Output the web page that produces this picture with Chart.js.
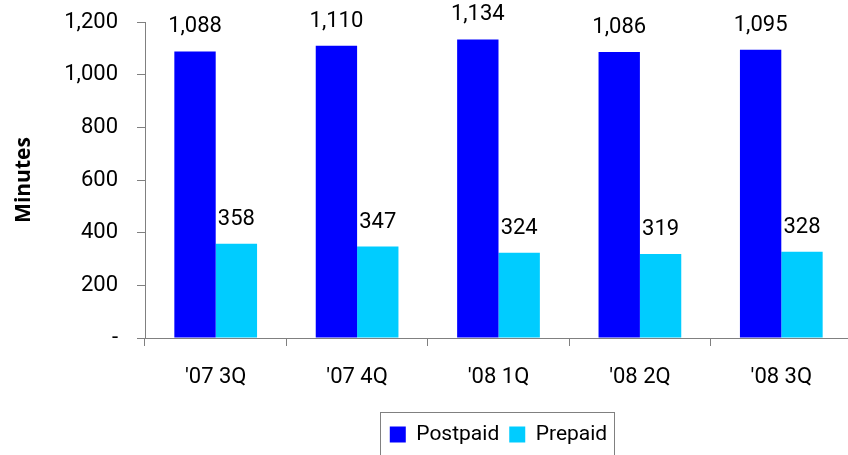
<!DOCTYPE html>
<html>
<head>
<meta charset="utf-8">
<script src="https://cdn.jsdelivr.net/npm/chart.js@4.4.0/dist/chart.umd.min.js"></script>
<style>
  html, body { margin: 0; padding: 0; background: #fff; overflow: hidden; }
  #wrap { width: 852px; height: 455px; }
</style>
</head>
<body>
<div id="wrap"><canvas id="mou"></canvas></div>
<script>
const quarters = ["'07 3Q", "'07 4Q", "'08 1Q", "'08 2Q", "'08 3Q"];
const postpaid = [1088, 1110, 1134, 1086, 1095];
const prepaid = [358, 347, 324, 319, 328];
const yTicks = [0, 200, 400, 600, 800, 1000, 1200];

const FONT = "Roboto, 'Liberation Sans', sans-serif";
const AXIS_GREY = '#808080';

// draw values above each bar
const valueLabels = {
  id: 'valueLabels',
  afterDatasetsDraw(chart) {
    const ctx = chart.ctx;
    ctx.save();
    ctx.font = '22px ' + FONT;
    ctx.fillStyle = '#000';
    ctx.textAlign = 'center';
    ctx.textBaseline = 'alphabetic';
    chart.data.datasets.forEach((ds, i) => {
      chart.getDatasetMeta(i).data.forEach((bar, j) => {
        ctx.fillText(ds.data[j].toLocaleString('en-US'), bar.x, bar.y - 19);
      });
    });
    ctx.restore();
  }
};

// move the legend under the plot area and frame it
const legendFrame = {
  id: 'legendFrame',
  afterLayout(chart) {
    const lg = chart.legend;
    lg.left = chart.chartArea.left;
    lg.right = chart.chartArea.right;
    lg.width = lg.right - lg.left;
  },
  afterDraw(chart) {
    const boxes = chart.legend.legendHitBoxes;
    if (!boxes || !boxes.length) return;
    const first = boxes[0], last = boxes[boxes.length - 1];
    const ctx = chart.ctx;
    ctx.save();
    ctx.strokeStyle = AXIS_GREY;
    ctx.lineWidth = 1;
    const x0 = Math.round(first.left - 10) + 0.5;
    const x1 = Math.round(last.left + last.width + 7) + 0.5;
    const y0 = Math.round(first.top - 12) + 0.5;
    ctx.strokeRect(x0, y0, x1 - x0, 60);
    ctx.restore();
  }
};

new Chart(document.getElementById('mou'), {
  type: 'bar',
  data: {
    labels: quarters,
    datasets: [
      { label: 'Postpaid', data: postpaid, backgroundColor: '#0000FF' },
      { label: 'Prepaid', data: prepaid, backgroundColor: '#00CCFF' }
    ]
  },
  options: {
    responsive: true,
    maintainAspectRatio: false,
    animation: false,
    datasets: { bar: { categoryPercentage: 0.585, barPercentage: 1 } },
    layout: { padding: 0 },
    plugins: {
      tooltip: { enabled: false },
      legend: {
        position: 'bottom',
        labels: {
          font: { family: FONT, size: 21 },
          color: '#000',
          boxWidth: 16,
          boxHeight: 16,
          padding: 10
        }
      }
    },
    scales: {
      x: {
        grid: { offset: true, drawOnChartArea: false, tickLength: 8, color: AXIS_GREY },
        border: { color: AXIS_GREY },
        ticks: { font: { family: FONT, size: 22 }, color: '#000', padding: 18 },
        afterFit(scale) { scale.height = 76; }
      },
      y: {
        min: 0,
        max: 1200,
        afterBuildTicks(scale) { scale.ticks = yTicks.map(v => ({ value: v })); },
        grid: { drawOnChartArea: false, tickLength: 8, color: AXIS_GREY },
        border: { color: AXIS_GREY },
        ticks: {
          font: { family: FONT, size: 22 },
          color: '#000',
          padding: 19,
          callback: v => v === 0 ? '-' : v.toLocaleString('en-US')
        },
        title: {
          display: true,
          text: 'Minutes',
          font: { family: "'Open Sans', 'DejaVu Sans', sans-serif", size: 21, weight: 'bold' },
          color: '#000',
          padding: { top: 11, bottom: 0 }
        },
        afterFit(scale) {
          scale.width = 145;
          scale.paddingTop = 22;
        }
      }
    }
  },
  plugins: [valueLabels, legendFrame]
});
</script>
</body>
</html>
